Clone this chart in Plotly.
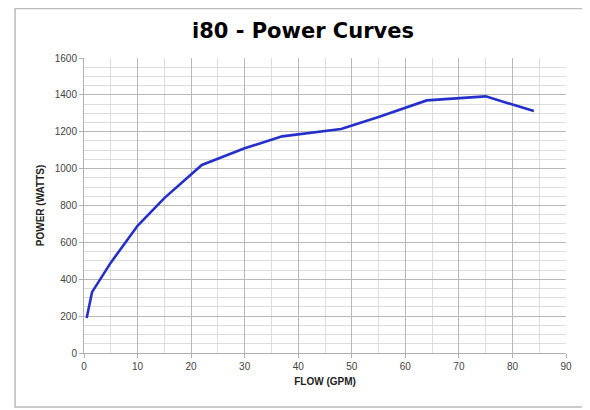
import plotly.graph_objects as go

flow_gpm = [0.5, 1.5, 5, 10, 15, 22, 30, 37, 48, 55, 64, 75, 84]
power_watts = [190, 330, 490, 690, 840, 1020, 1110, 1175, 1215, 1280, 1370, 1392, 1312]

x_ticks = [0, 10, 20, 30, 40, 50, 60, 70, 80, 90]
y_ticks = [0, 200, 400, 600, 800, 1000, 1200, 1400, 1600]

fig = go.Figure()
fig.add_trace(go.Scatter(
    x=flow_gpm, y=power_watts, mode="lines",
    line=dict(color="#2430c8", width=2.6), showlegend=False,
))

fig.update_layout(
    width=590, height=410,
    paper_bgcolor="white", plot_bgcolor="white",
    margin=dict(l=76, r=32, t=50, b=65),
    title=dict(text="<b>i80 - Power Curves</b>", x=0.5, xanchor="center",
               y=0.945, yanchor="middle",
               font=dict(family="DejaVu Sans", size=21, color="black")),
    font=dict(family="Liberation Sans", size=10, color="#444444"),
)
fig.update_xaxes(
    range=[0, 90], tickvals=x_ticks, ticktext=[str(v) for v in x_ticks],
    showgrid=True, gridcolor="#b8b8b8", gridwidth=1,
    minor=dict(dtick=5, showgrid=True, gridcolor="#dcdcdc", gridwidth=1),
    zeroline=False, showline=True, linecolor="#b0b0b0",
    ticks="outside", ticklen=4, tickcolor="#b0b0b0",
    title=dict(text="<b>FLOW (GPM)</b>", font=dict(size=10, color="#222222"), standoff=6),
)
fig.update_yaxes(
    range=[0, 1600], tickvals=y_ticks, ticktext=[str(v) for v in y_ticks],
    showgrid=True, gridcolor="#b8b8b8", gridwidth=1,
    minor=dict(dtick=50, showgrid=True, gridcolor="#dcdcdc", gridwidth=1),
    zeroline=False, showline=True, linecolor="#b0b0b0",
    ticks="outside", ticklen=4, tickcolor="#b0b0b0",
    title=dict(text="<b>POWER (WATTS)</b>", font=dict(size=10, color="#222222"), standoff=8),
)
fig.add_shape(type="rect", xref="paper", yref="paper",
              x0=-0.143, x1=1.039, y0=-0.183, y1=1.168,
              line=dict(color="#bbbbbb", width=1.5), layer="below")

fig.write_html("out.html")
